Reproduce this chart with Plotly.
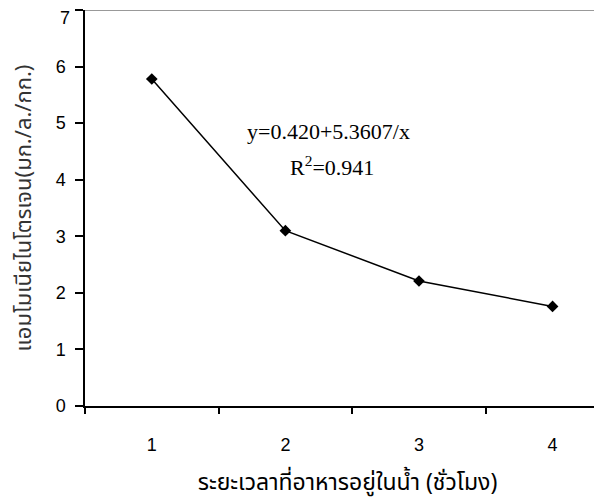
import plotly.graph_objects as go

hours = ["1", "2", "3", "4"]
ammonia = [5.78, 3.10, 2.21, 1.76]
y_ticks = [0, 1, 2, 3, 4, 5, 6, 7]
y_ticktext = ["0", "1", "2", "3", "4", "5", "6", ""]
top_tick = [7]
top_ticktext = ["7"]
x_title = "ระยะเวลาที่อาหารอยู่ในน้ำ (ชั่วโมง)"
y_title = "แอมโมเนียไนโตรเจน(มก./ล./กก.)"
eq_text = "y=0.420+5.3607/x"
r2_text = "R<sup>2</sup>=0.941"

fig = go.Figure()
fig.add_trace(go.Scatter(
    x=hours, y=ammonia, mode="lines+markers",
    line=dict(color="black", width=1.5),
    marker=dict(symbol="diamond", size=9, color="black"),
    showlegend=False, cliponaxis=False,
))
# invisible trace to activate the secondary axis carrying the top label
fig.add_trace(go.Scatter(x=hours[:1], y=top_tick, yaxis="y2", mode="markers",
                         marker=dict(opacity=0), showlegend=False, hoverinfo="skip"))

fig.add_shape(type="line", xref="paper", yref="y", x0=0, x1=1, y0=7, y1=7,
              line=dict(color="#999999", width=2))

fig.add_annotation(x=1.32, y=4.85, xref="x", yref="y", text=eq_text, showarrow=False,
                   font=dict(family="Liberation Serif", size=22, color="black"))
fig.add_annotation(x=1.35, y=4.25, xref="x", yref="y", text=r2_text, showarrow=False,
                   font=dict(family="Liberation Serif", size=22, color="black"))

thai_font = "Noto Sans Thai, Tahoma, Noto Sans, sans-serif"
tick_font = dict(family="Liberation Sans", size=18, color="black")

fig.update_layout(
    width=602, height=499,
    margin=dict(l=77, r=0, t=2, b=101),
    plot_bgcolor="white", paper_bgcolor="white",
    font=dict(family="Liberation Sans", size=16, color="black"),
    xaxis=dict(
        type="category", range=[-0.5, 3.43], tickson="boundaries", automargin=False,
        showline=True, linecolor="black", linewidth=1.5,
        ticks="outside", ticklen=6, tickcolor="black", tickwidth=1.5,
        showgrid=False, zeroline=False, ticklabelstandoff=22,
        tickfont=tick_font,
        title=dict(text=x_title, standoff=20,
                   font=dict(family=thai_font, size=23, color="black")),
    ),
    yaxis=dict(
        range=[0, 7], tickvals=y_ticks, ticktext=y_ticktext, automargin=False,
        showline=True, linecolor="black", linewidth=1.5,
        ticks="outside", ticklen=8, tickcolor="black", tickwidth=1.5,
        showgrid=False, zeroline=False, ticklabelstandoff=6,
        tickfont=tick_font,
        title=dict(text=y_title, standoff=22,
                   font=dict(family=thai_font, size=22, color="#333")),
    ),
    yaxis2=dict(
        overlaying="y", side="left", range=[0, 7], tickvals=top_tick, automargin=False,
        ticktext=top_ticktext, showline=False, ticks="", showgrid=False,
        zeroline=False, ticklabelstandoff=14, ticklabelshift=8,
        ticklabeloverflow="allow", tickfont=tick_font,
    ),
)

fig.write_html("out.html")
